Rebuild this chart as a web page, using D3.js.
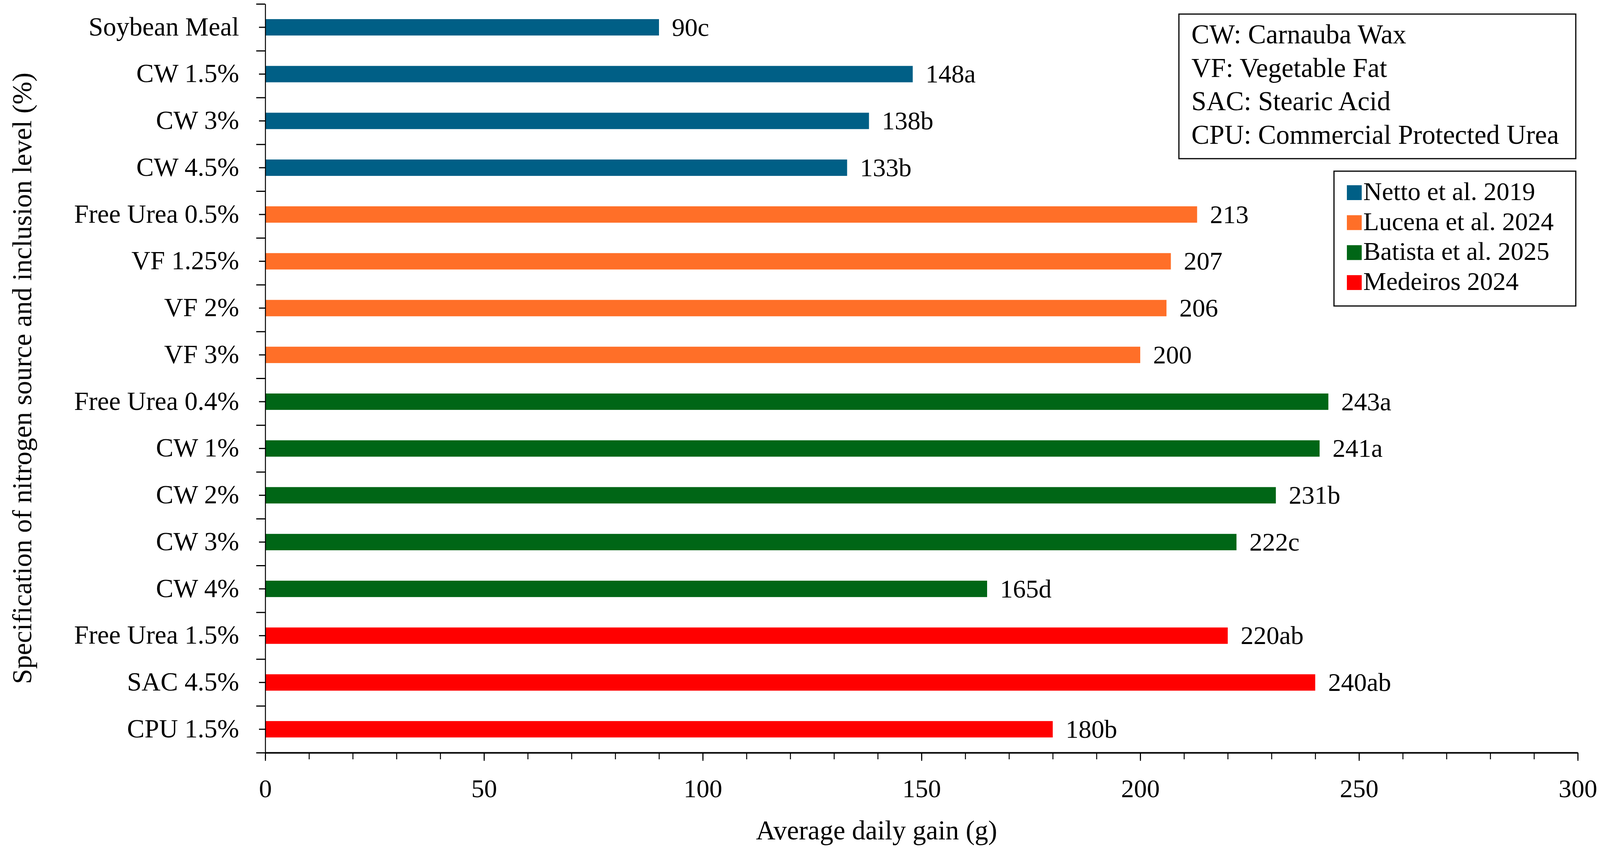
<!DOCTYPE html>
<html>
<head>
<meta charset="utf-8">
<script src="https://cdn.jsdelivr.net/npm/d3@7"></script>
<style>
  body { margin: 0; background: #fff; }
  text { font-family: "Liberation Serif", "Times New Roman", serif; fill: #000; }
</style>
</head>
<body>
<svg id="chart" width="4110" height="2193"></svg>
<script>
// categories from top to bottom
const categories = [
  'Soybean Meal', 'CW 1.5%', 'CW 3%', 'CW 4.5%',
  'Free Urea 0.5%', 'VF 1.25%', 'VF 2%', 'VF 3%',
  'Free Urea 0.4%', 'CW 1%', 'CW 2%', 'CW 3%', 'CW 4%',
  'Free Urea 1.5%', 'SAC 4.5%', 'CPU  1.5%'
]
const gains = [90, 148, 138, 133, 213, 207, 206, 200, 243, 241, 231, 222, 165, 220, 240, 180]
const letters = ['c', 'a', 'b', 'b', '', '', '', '', 'a', 'a', 'b', 'c', 'd', 'ab', 'ab', 'b']
const studyOf = [0, 0, 0, 0, 1, 1, 1, 1, 2, 2, 2, 2, 2, 3, 3, 3]

const studies = ['Netto et al. 2019', 'Lucena et al. 2024', 'Batista et al. 2025', 'Medeiros 2024']
const studyColors = ['#005f86', '#ff6f28', '#006616', '#ff0000']

const abbreviations = [
  'CW: Carnauba Wax',
  'VF: Vegetable Fat',
  'SAC: Stearic Acid',
  'CPU: Commercial Protected Urea'
]

const xMajorTicks = [0, 50, 100, 150, 200, 250, 300]
const xMinorTicks = [0, 10, 20, 30, 40, 50, 60, 70, 80, 90, 100, 110, 120, 130, 140, 150,
  160, 170, 180, 190, 200, 210, 220, 230, 240, 250, 260, 270, 280, 290, 300]

const xTitle = 'Average daily gain (g)'
const yTitle = 'Specification of nitrogen source and inclusion level (%)'

const svg = d3.select('#chart')
const plotLeft = 679
const plotRight = 4039
const plotTop = 10
const plotBottom = 1926

const x = d3.scaleLinear().domain([0, 300]).range([plotLeft, plotRight])
const y = d3
  .scaleBand()
  .domain(d3.range(categories.length))
  .range([plotTop, plotBottom])
  .paddingInner(0.65)
  .paddingOuter(0.325)
// boundaries between categories
const yEdge = d3.scaleLinear().domain([0, categories.length]).range([plotTop, plotBottom])

// bars
svg.append('g')
  .selectAll('rect')
  .data(gains)
  .join('rect')
  .attr('x', x(0) + 1)
  .attr('y', (d, i) => y(i))
  .attr('width', d => x(d) - x(0) - 1)
  .attr('height', y.bandwidth())
  .attr('fill', (d, i) => studyColors[studyOf[i]])

// value labels
svg.append('g')
  .selectAll('text')
  .data(gains)
  .join('text')
  .attr('x', d => x(d) + 33)
  .attr('y', (d, i) => y(i) + y.bandwidth() / 2)
  .attr('dy', '0.33em')
  .style('font-size', '66px')
  .text((d, i) => `${d}${letters[i]}`)

// y axis: labelled ticks at the bar centres
const yAxis = svg.append('g')
  .attr('transform', `translate(${plotLeft},0)`)
  .call(d3.axisLeft(y).tickSize(16).tickSizeOuter(0).tickPadding(51).tickFormat(i => categories[i]))
yAxis.attr('font-family', null).attr('font-size', null)
yAxis.select('.domain').attr('stroke', '#000').attr('stroke-width', 2.5)
yAxis.selectAll('.tick line').attr('stroke', '#000').attr('stroke-width', 3)
yAxis.selectAll('.tick text')
  .style('font-size', '67px')
  .attr('dy', '0.31em')

// y axis: ticks between categories
const yEdgeAxis = svg.append('g')
  .attr('transform', `translate(${plotLeft},0)`)
  .call(d3.axisLeft(yEdge).tickValues(d3.range(categories.length + 1)).tickSize(23).tickSizeOuter(0).tickFormat(''))
yEdgeAxis.select('.domain').remove()
yEdgeAxis.selectAll('.tick line').attr('stroke', '#000').attr('stroke-width', 3)

// x axis: minor ticks
const xMinor = svg.append('g')
  .attr('transform', `translate(0,${plotBottom})`)
  .call(d3.axisBottom(x).tickValues(xMinorTicks).tickSize(17).tickSizeOuter(0).tickFormat(''))
xMinor.select('.domain').remove()
xMinor.selectAll('.tick line').attr('stroke', '#000').attr('stroke-width', 2.5)

// x axis: major ticks with labels
const xAxis = svg.append('g')
  .attr('transform', `translate(0,${plotBottom})`)
  .call(d3.axisBottom(x).tickValues(xMajorTicks).tickSize(21).tickSizeOuter(0))
xAxis.attr('font-family', null).attr('font-size', null)
xAxis.select('.domain').attr('stroke', '#000').attr('stroke-width', 4)
xAxis.selectAll('.tick line').attr('stroke', '#000').attr('stroke-width', 2.5)
xAxis.selectAll('.tick text')
  .style('font-size', '66px')
  .attr('y', 114)
  .attr('dy', 0)

// axis titles
svg.append('text')
  .attr('x', 2244)
  .attr('y', 2148)
  .attr('text-anchor', 'middle')
  .style('font-size', '69px')
  .text(xTitle)

svg.append('text')
  .attr('transform', `translate(80,${(plotTop + plotBottom) / 2}) rotate(-90)`)
  .attr('text-anchor', 'middle')
  .style('font-size', '70px')
  .text(yTitle)

// abbreviation box
const abbr = svg.append('g')
abbr.append('rect')
  .attr('x', 3018).attr('y', 36)
  .attr('width', 1016).attr('height', 370)
  .attr('fill', '#fff').attr('stroke', '#000').attr('stroke-width', 3)
abbr.selectAll('text')
  .data(abbreviations)
  .join('text')
  .attr('x', 3050)
  .attr('y', (d, i) => 111 + i * 85.7)
  .style('font-size', '69px')
  .text(d => d)

// study legend
const legend = svg.append('g')
legend.append('rect')
  .attr('x', 3415).attr('y', 438)
  .attr('width', 619).attr('height', 345)
  .attr('fill', '#fff').attr('stroke', '#000').attr('stroke-width', 3)
const item = legend.selectAll('g.item')
  .data(studies)
  .join('g')
  .classed('item', true)
  .attr('transform', (d, i) => `translate(3448,${474 + i * 76.7})`)
item.append('rect')
  .attr('width', 38).attr('height', 38)
  .attr('fill', (d, i) => studyColors[i])
item.append('text')
  .attr('x', 42)
  .attr('y', 38)
  .style('font-size', '66px')
  .text(d => d)
</script>
</body>
</html>
